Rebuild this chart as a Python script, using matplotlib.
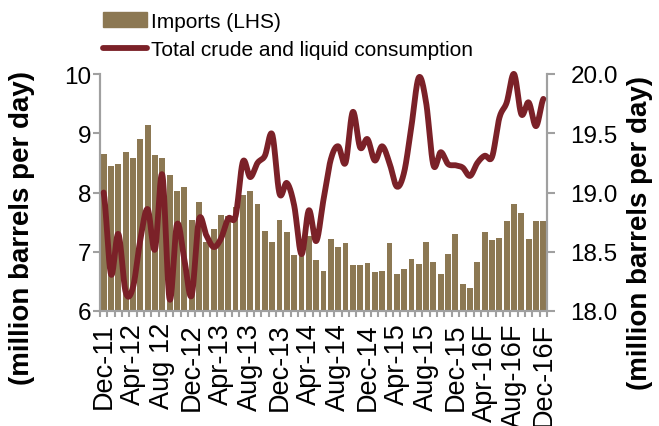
import numpy as np
import matplotlib
matplotlib.use("Agg")
import matplotlib.pyplot as plt
from matplotlib.patches import Patch
from matplotlib.lines import Line2D

plt.rcParams['font.family'] = ['Liberation Sans', 'DejaVu Sans']

# monthly data, Dec-11 .. Dec-16F
imports = [8.65, 8.44, 8.48, 8.69, 8.59, 8.90, 9.14, 8.63, 8.59, 8.30,
           8.03, 8.10, 7.53, 7.84, 7.16, 7.38, 7.62, 7.61, 7.75, 7.95,
           8.02, 7.81, 7.35, 7.16, 7.54, 7.34, 6.95, 6.95, 7.26, 6.86,
           6.68, 7.21, 7.08, 7.14, 6.77, 6.77, 6.81, 6.66, 6.68, 7.15,
           6.62, 6.71, 6.87, 6.80, 7.17, 6.82, 6.62, 6.97, 7.30, 6.46,
           6.38, 6.83, 7.33, 7.20, 7.24, 7.52, 7.80, 7.65, 7.21, 7.52,
           7.52]
consumption = [19.00, 18.31, 18.65, 18.16, 18.20, 18.60, 18.86, 18.52, 19.15, 18.10,
               18.73, 18.44, 18.13, 18.77, 18.64, 18.54, 18.61, 18.78, 18.80, 19.26,
               19.13, 19.25, 19.31, 19.49, 18.99, 19.08, 18.89, 18.48, 18.85, 18.59,
               18.94, 19.28, 19.39, 19.25, 19.68, 19.38, 19.45, 19.27, 19.39, 19.25,
               19.05, 19.17, 19.56, 19.97, 19.76, 19.23, 19.34, 19.24, 19.23, 19.21,
               19.14, 19.25, 19.31, 19.30, 19.63, 19.76, 20.00, 19.66, 19.76, 19.56,
               19.79]
tick_labels = ['Dec-11', 'Apr-12', 'Aug 12', 'Dec-12', 'Apr-13', 'Aug-13',
               'Dec-13', 'Apr-14', 'Aug-14', 'Dec-14', 'Apr-15', 'Aug-15',
               'Dec-15', 'Apr-16F', 'Aug-16F', 'Dec-16F']

BAR = '#8C7853'
LINE = '#7B2128'
GREY = '#A0A0A0'


def smooth(y, n=20):
    # catmull-rom curve through the points, like Excel's smoothed line
    y = np.asarray(y, dtype=float)
    p = np.concatenate([[y[0]], y, [y[-1]]])
    xs, ys = [], []
    t = np.linspace(0, 1, n, endpoint=False)
    for i in range(len(y) - 1):
        p0, p1, p2, p3 = p[i], p[i + 1], p[i + 2], p[i + 3]
        seg = 0.5 * (2 * p1 + (-p0 + p2) * t
                     + (2 * p0 - 5 * p1 + 4 * p2 - p3) * t ** 2
                     + (-p0 + 3 * p1 - 3 * p2 + p3) * t ** 3)
        xs.append(i + t)
        ys.append(seg)
    xs.append([len(y) - 1])
    ys.append([y[-1]])
    return np.concatenate(xs), np.concatenate(ys)


fig = plt.figure(figsize=(6.59, 4.27), dpi=100)
ax = fig.add_axes([100 / 659, 1 - 312 / 427, 447 / 659, 237 / 427])
x = np.arange(len(imports))
ax.bar(x, imports, width=0.8, color=BAR, zorder=2)
ax.set_xlim(-0.5, len(imports) - 0.5)
ax.set_ylim(6, 10)
ax.set_yticks([6, 7, 8, 9, 10])

ax2 = ax.twinx()
sx, sy = smooth(consumption)
ax2.plot(sx, sy, color=LINE, lw=4.2, solid_capstyle='round', clip_on=False, zorder=3)
ax2.set_ylim(18, 20)
ax2.set_yticks([18.0, 18.5, 19.0, 19.5, 20.0])
ax2.set_yticklabels(['18.0', '18.5', '19.0', '19.5', '20.0'])

for a in (ax, ax2):
    a.spines['top'].set_visible(False)
    for s in ('left', 'right', 'bottom'):
        a.spines[s].set_color(GREY)
        a.spines[s].set_linewidth(1.5)

ax.tick_params(axis='y', direction='out', length=5, width=1.5, color=GREY,
               labelsize=17.5, pad=1)
ax2.tick_params(axis='y', direction='out', length=6, width=1.5, color=GREY,
                labelsize=17.5, pad=11)

ax.set_xticks(x[::4])
ax.set_xticklabels(tick_labels, rotation=90)
ax.set_xticks(np.arange(-0.5, len(imports)), minor=True)
ax.tick_params(axis='x', which='major', length=0, labelsize=19.5, pad=8)
ax.tick_params(axis='x', which='minor', length=4, width=1.5, color=GREY)

fig.text(22 / 659, 0.467, '(million barrels per day)', rotation=90,
         ha='center', va='center', fontsize=20, fontweight='bold')
fig.text(640 / 659, 0.454, '(million barrels per day)', rotation=90,
         ha='center', va='center', fontsize=20, fontweight='bold')

handles = [Patch(color=BAR), Line2D([], [], color=LINE, lw=4.2, solid_capstyle='round')]
fig.legend(handles, ['Imports (LHS)', 'Total crude and liquid consumption'],
           loc='upper left', bbox_to_anchor=(95 / 659, 0.99), frameon=False,
           fontsize=15, handlelength=2.1, handleheight=0.7, handletextpad=0.2,
           labelspacing=0.45, borderaxespad=0)

fig.savefig('out.png', dpi=100)
